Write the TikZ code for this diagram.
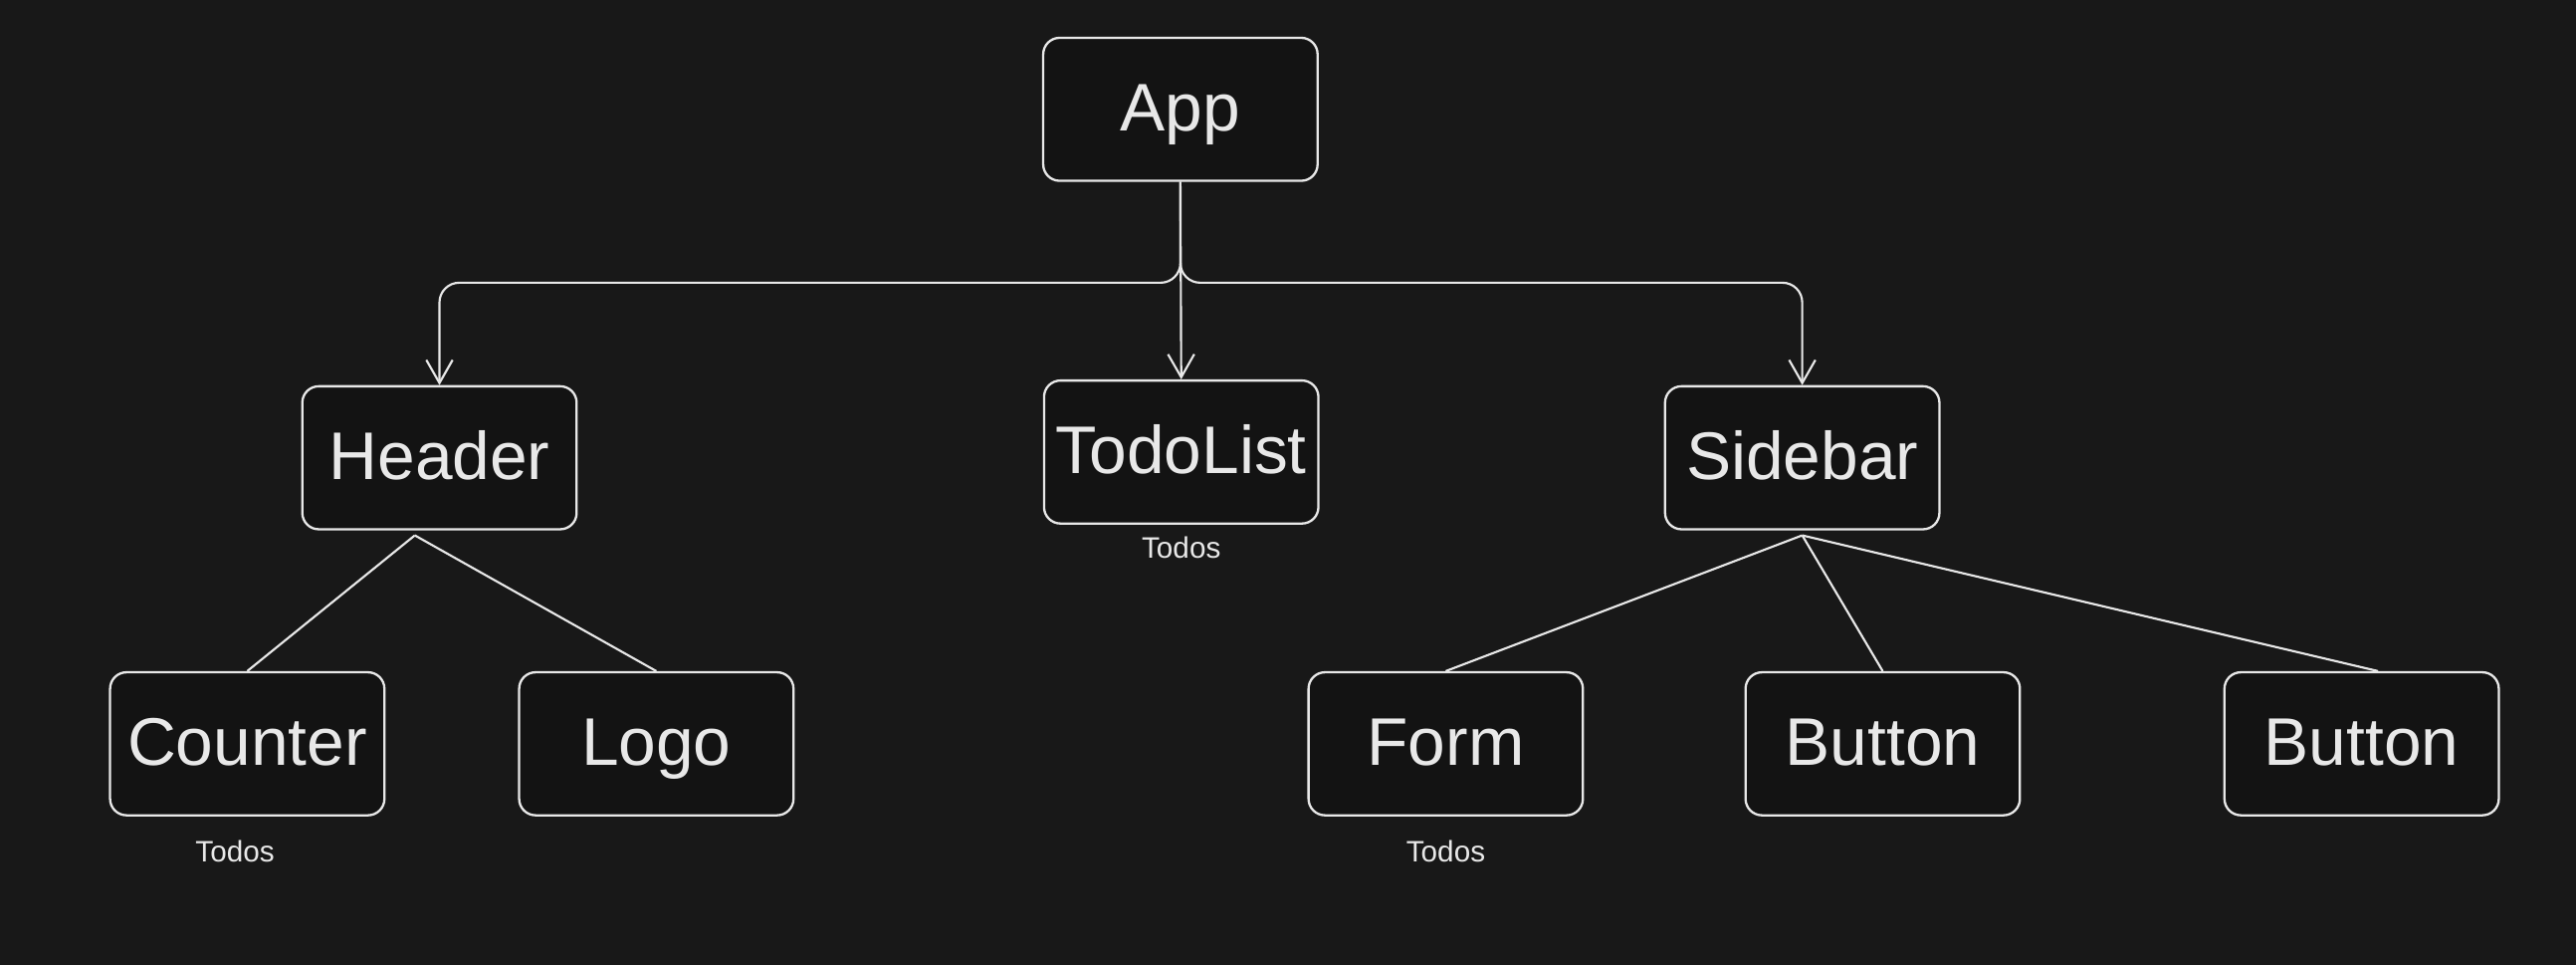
\documentclass[tikz,border=0pt]{standalone}
\usepackage{fontspec}
\setmainfont{Liberation Sans}
\usepackage{tikz}
\usetikzlibrary{arrows.meta}
\definecolor{canvas}{HTML}{181818}
\definecolor{boxfill}{HTML}{131313}
\definecolor{ink}{HTML}{E8E8E8}

\begin{document}
\begin{tikzpicture}[x=1pt,y=-1pt,
    comp/.style={draw=ink, fill=boxfill, line width=1.4pt, rounded corners=10pt,
      minimum width=167pt, minimum height=87pt, inner sep=0pt, text=ink,
      font=\fontsize{41}{50}\selectfont, text height=26pt, text depth=0pt},
    note/.style={text=ink, font=\fontsize{18}{22}\selectfont, inner sep=0pt},
    link/.style={draw=ink, line width=1.3pt},
    feed/.style={link, rounded corners=12pt,
      -{Straight Barb[length=14pt,width=16pt,line width=1.3pt]}}]
                \useasboundingbox (0,0) rectangle (1568,586.5);
                \fill[canvas] (-5,-5) rectangle (1573,591.5);
                % top row
                \node[comp] (app) at (718.5,66.5) {App};
                % second row
                \node[comp] (header) at (267.5,278.5) {Header};
                \node[comp] (todolist) at (719,275) {TodoList};
                \node[comp] (sidebar) at (1097,278.5) {Sidebar};
                % leaves
                \node[comp] (counter) at (150.5,452.5) {Counter};
                \node[comp] (logo) at (399.5,452.5) {Logo};
                \node[comp] (form) at (880,452.5) {Form};
                \node[comp] (buttonA) at (1146,452.5) {Button};
                \node[comp] (buttonB) at (1437.5,452.5) {Button};
                % state notes
                \node[note] (todosList) at (719,333) {Todos};
                \node[note] (todosCounter) at (143,518) {Todos};
                \node[note] (todosForm) at (880,518) {Todos};
                % connectors
                \coordinate (fork) at (718.5,172);
                \draw[feed] (app.south) -- (fork) -| (header.north);
                \draw[feed] (app.south) -- (fork) -| (sidebar.north);
                \draw[feed] (app.south) -- (todolist.north);
                \coordinate (headerFoot) at ([xshift=-15pt,yshift=-3pt]header.south);
                \draw[link] (headerFoot) -- (counter.north);
                \draw[link] (headerFoot) -- (logo.north);
                \coordinate (sidebarFoot) at ([yshift=-3pt]sidebar.south);
                \draw[link] (sidebarFoot) -- (form.north);
                \draw[link] (sidebarFoot) -- (buttonA.north);
                \draw[link] (sidebarFoot) -- ([xshift=10pt]buttonB.north);
            \end{tikzpicture}
\end{document}
